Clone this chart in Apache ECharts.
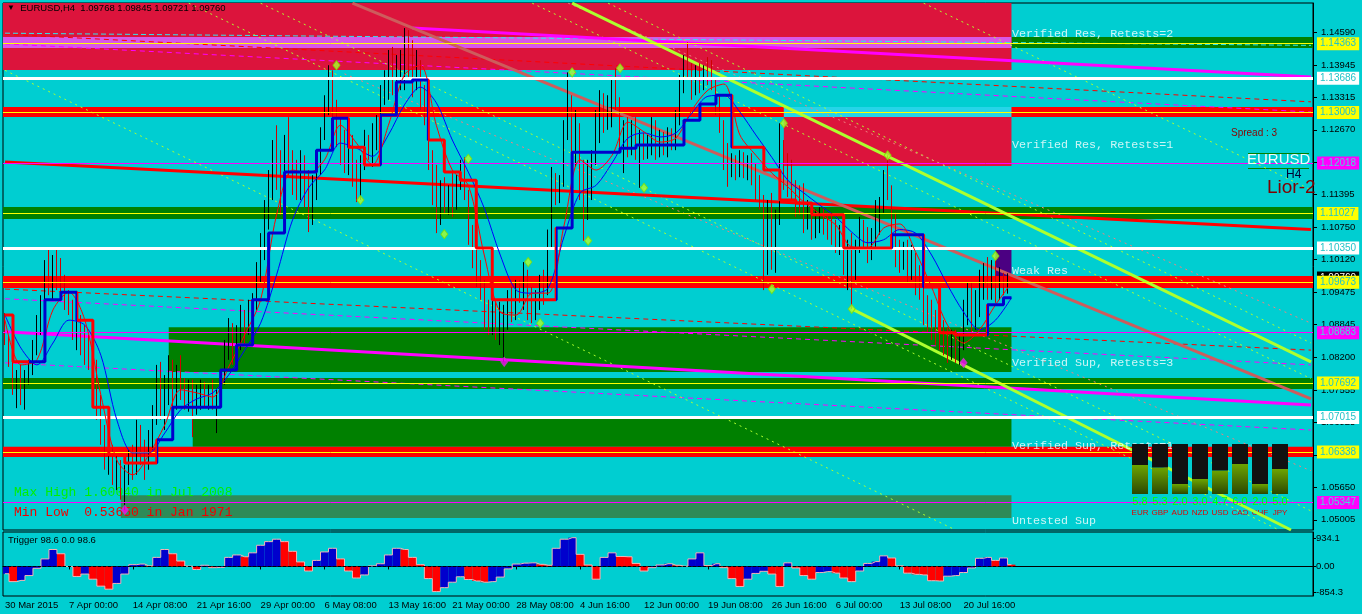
<!DOCTYPE html>
<html>
<head>
<meta charset="utf-8">
<script src="https://cdn.jsdelivr.net/npm/echarts@6.0.0/dist/echarts.min.js"></script>
<style>
html,body{margin:0;padding:0;background:#00CED1;overflow:hidden;}
#chart{width:1362px;height:614px;}
</style>
</head>
<body>
<div id="chart"></div>
<script>
// ================= DATA =================
const timeLabels = ['30 Mar 2015','7 Apr 00:00','14 Apr 08:00','21 Apr 16:00','29 Apr 00:00','6 May 08:00','13 May 16:00','21 May 00:00','28 May 08:00','4 Jun 16:00','12 Jun 00:00','19 Jun 08:00','26 Jun 16:00','6 Jul 00:00','13 Jul 08:00','20 Jul 16:00'];

const barOpen = [
1.0893,1.0854,1.0815,1.0766,1.0785,1.0746,1.0776,1.0795,1.0844,1.0883,
1.0923,1.0982,1.0962,1.0992,1.0972,1.0952,1.0933,1.0913,1.0874,1.0893,
1.0844,1.0824,1.0815,1.0776,1.0717,1.0667,1.0618,1.0638,1.0589,1.0599,
1.0559,1.0589,1.0618,1.0599,1.0667,1.0628,1.0608,1.0658,1.0707,1.0776,
1.0726,1.0766,1.0795,1.0736,1.0785,1.0756,1.0736,1.0746,1.0726,1.0736,
1.0746,1.0736,1.0746,1.0726,1.0736,1.0776,1.0834,1.0874,1.0834,1.0864,
1.0893,1.0874,1.0913,1.0933,1.0992,1.1041,1.1100,1.1168,1.1227,1.1188,
1.1149,1.1227,1.1208,1.1168,1.1158,1.1198,1.1139,1.1110,1.1158,1.1208,
1.1257,1.1316,1.1365,1.1296,1.1267,1.1227,1.1208,1.1247,1.1178,1.1149,
1.1198,1.1237,1.1227,1.1247,1.1286,1.1335,1.1365,1.1394,1.1365,1.1384,
1.1404,1.1434,1.1414,1.1384,1.1394,1.1326,1.1296,1.1208,1.1149,1.1110,
1.1139,1.1119,1.1139,1.1129,1.1158,1.1178,1.1139,1.1061,1.1021,1.0982,
1.0952,1.0903,1.0883,1.0913,1.0874,1.0893,1.0903,1.0933,1.0913,1.0952,
1.0942,1.0962,1.0933,1.0913,1.0933,1.0962,1.0952,1.1051,1.1158,1.1139,
1.1158,1.1267,1.1326,1.1247,1.1276,1.1168,1.1129,1.1178,1.1208,1.1286,
1.1316,1.1286,1.1306,1.1345,1.1326,1.1247,1.1267,1.1247,1.1257,1.1227,
1.1247,1.1227,1.1247,1.1267,1.1237,1.1247,1.1237,1.1257,1.1247,1.1296,
1.1355,1.1394,1.1384,1.1355,1.1375,1.1365,1.1380,1.1375,1.1355,1.1316,
1.1276,1.1208,1.1188,1.1208,1.1188,1.1208,1.1188,1.1198,1.1178,1.1149,
1.1129,1.1071,1.1100,1.1031,1.1090,1.1227,1.1178,1.1168,1.1149,1.1129,
1.1119,1.1090,1.1100,1.1080,1.1090,1.1100,1.1080,1.1071,1.1061,1.1041,
1.1051,1.1011,1.1031,1.1001,1.1031,1.1071,1.1051,1.1031,1.1061,1.1100,
1.1119,1.1168,1.1149,1.1071,1.1031,1.1021,1.1031,1.1001,1.1011,1.0962,
1.0952,1.0903,1.0893,1.0874,1.0864,1.0854,1.0844,1.0834,1.0844,1.0824,
1.0854,1.0913,1.0933,1.0893,1.0933,1.0962,1.0982,1.0952,1.0992,1.0952,
1.0962,1.0952];
const barHigh = [
1.0907,1.0864,1.0854,1.0795,1.0805,1.0795,1.0815,1.0854,1.0903,1.0942,
1.1011,1.1031,1.1021,1.1035,1.1015,1.0982,1.0952,1.0933,1.0923,1.0903,
1.0883,1.0864,1.0844,1.0815,1.0746,1.0687,1.0677,1.0648,1.0628,1.0618,
1.0608,1.0638,1.0648,1.0697,1.0687,1.0658,1.0677,1.0726,1.0805,1.0811,
1.0785,1.0824,1.0815,1.0805,1.0824,1.0779,1.0776,1.0776,1.0766,1.0776,
1.0772,1.0766,1.0776,1.0756,1.0795,1.0854,1.0897,1.0887,1.0883,1.0923,
1.0913,1.0933,1.0946,1.1007,1.1064,1.1129,1.1188,1.1247,1.1276,1.1227,
1.1257,1.1292,1.1227,1.1208,1.1227,1.1217,1.1188,1.1178,1.1227,1.1272,
1.1335,1.1394,1.1384,1.1326,1.1292,1.1267,1.1272,1.1257,1.1208,1.1217,
1.1267,1.1257,1.1280,1.1296,1.1355,1.1384,1.1424,1.1430,1.1414,1.1424,
1.1467,1.1463,1.1443,1.1424,1.1404,1.1355,1.1326,1.1227,1.1198,1.1168,
1.1174,1.1158,1.1188,1.1178,1.1208,1.1213,1.1149,1.1080,1.1031,1.1011,
1.0972,1.0933,1.0942,1.0933,1.0929,1.0923,1.0952,1.0958,1.0972,1.0972,
1.1007,1.0992,1.0958,1.0952,1.0982,1.0992,1.1071,1.1194,1.1182,1.1178,
1.1286,1.1380,1.1335,1.1306,1.1280,1.1208,1.1208,1.1227,1.1306,1.1345,
1.1339,1.1335,1.1365,1.1388,1.1331,1.1286,1.1292,1.1286,1.1292,1.1267,
1.1261,1.1257,1.1292,1.1286,1.1267,1.1263,1.1272,1.1270,1.1306,1.1375,
1.1414,1.1439,1.1398,1.1394,1.1398,1.1394,1.1410,1.1404,1.1365,1.1335,
1.1286,1.1241,1.1221,1.1217,1.1227,1.1223,1.1217,1.1221,1.1202,1.1178,
1.1139,1.1129,1.1143,1.1110,1.1280,1.1247,1.1221,1.1208,1.1168,1.1158,
1.1162,1.1129,1.1115,1.1110,1.1115,1.1113,1.1104,1.1100,1.1090,1.1080,
1.1076,1.1051,1.1064,1.1051,1.1096,1.1090,1.1076,1.1074,1.1129,1.1135,
1.1188,1.1217,1.1158,1.1104,1.1051,1.1047,1.1051,1.1041,1.1025,1.1001,
1.0966,1.0942,1.0933,1.0913,1.0899,1.0893,1.0879,1.0874,1.0874,1.0864,
1.0933,1.0966,1.0966,1.0952,1.0992,1.1005,1.1017,1.1011,1.1017,1.0997,
1.0986,1.0985];
const barLow = [
1.0844,1.0801,1.0746,1.0720,1.0726,1.0717,1.0766,1.0785,1.0824,1.0864,
1.0913,1.0942,1.0933,1.0952,1.0942,1.0913,1.0903,1.0854,1.0834,1.0824,
1.0805,1.0795,1.0756,1.0697,1.0648,1.0599,1.0589,1.0569,1.0559,1.0540,
1.0520,1.0569,1.0579,1.0589,1.0608,1.0579,1.0599,1.0638,1.0687,1.0697,
1.0677,1.0726,1.0707,1.0717,1.0736,1.0717,1.0713,1.0663,1.0707,1.0717,
1.0720,1.0717,1.0717,1.0671,1.0726,1.0766,1.0815,1.0805,1.0815,1.0834,
1.0844,1.0864,1.0893,1.0913,1.0966,1.1011,1.1071,1.1129,1.1149,1.1100,
1.1129,1.1178,1.1139,1.1129,1.1129,1.1115,1.1066,1.1080,1.1129,1.1178,
1.1247,1.1296,1.1267,1.1233,1.1198,1.1182,1.1178,1.1155,1.1125,1.1129,
1.1188,1.1208,1.1194,1.1227,1.1267,1.1316,1.1326,1.1335,1.1326,1.1345,
1.1345,1.1365,1.1331,1.1345,1.1306,1.1276,1.1188,1.1119,1.1064,1.1080,
1.1104,1.1100,1.1096,1.1110,1.1149,1.1129,1.1041,1.0995,1.0958,1.0933,
1.0874,1.0864,1.0864,1.0854,1.0844,1.0811,1.0874,1.0889,1.0893,1.0927,
1.0913,1.0893,1.0887,1.0893,1.0913,1.0923,1.0942,1.1031,1.1119,1.1123,
1.1155,1.1247,1.1208,1.1194,1.1129,1.1049,1.1090,1.1129,1.1198,1.1241,
1.1261,1.1267,1.1272,1.1306,1.1227,1.1182,1.1213,1.1217,1.1208,1.1153,
1.1208,1.1210,1.1217,1.1208,1.1213,1.1217,1.1213,1.1227,1.1227,1.1276,
1.1339,1.1365,1.1326,1.1335,1.1339,1.1345,1.1355,1.1345,1.1296,1.1261,
1.1188,1.1155,1.1174,1.1168,1.1174,1.1172,1.1168,1.1158,1.1129,1.1110,
1.0952,1.0982,1.0992,1.0986,1.1080,1.1149,1.1135,1.1129,1.1096,1.1100,
1.1064,1.1071,1.1051,1.1054,1.1064,1.1061,1.1051,1.1041,1.1025,1.1021,
1.0982,1.0952,1.0915,1.0972,1.1025,1.1031,1.1005,1.1011,1.1031,1.1061,
1.1104,1.1129,1.1051,1.0997,1.0986,1.0992,1.0966,1.0972,1.0942,1.0933,
1.0883,1.0868,1.0854,1.0844,1.0834,1.0824,1.0809,1.0815,1.0809,1.0805,
1.0834,1.0883,1.0868,1.0874,1.0899,1.0933,1.0933,1.0933,1.0927,1.0933,
1.0942,1.0945];
const barClose = [
1.0854,1.0815,1.0766,1.0785,1.0746,1.0776,1.0795,1.0844,1.0883,1.0923,
1.0982,1.0962,1.0992,1.0972,1.0952,1.0933,1.0913,1.0874,1.0893,1.0844,
1.0824,1.0815,1.0776,1.0717,1.0667,1.0618,1.0638,1.0589,1.0599,1.0559,
1.0589,1.0618,1.0599,1.0667,1.0628,1.0608,1.0658,1.0707,1.0776,1.0726,
1.0766,1.0795,1.0736,1.0785,1.0756,1.0736,1.0746,1.0726,1.0736,1.0746,
1.0736,1.0746,1.0726,1.0736,1.0776,1.0834,1.0874,1.0834,1.0864,1.0893,
1.0874,1.0913,1.0933,1.0992,1.1041,1.1100,1.1168,1.1227,1.1188,1.1149,
1.1227,1.1208,1.1168,1.1158,1.1198,1.1139,1.1110,1.1158,1.1208,1.1257,
1.1316,1.1365,1.1296,1.1267,1.1227,1.1208,1.1247,1.1178,1.1149,1.1198,
1.1237,1.1227,1.1247,1.1286,1.1335,1.1365,1.1394,1.1365,1.1384,1.1404,
1.1434,1.1414,1.1384,1.1394,1.1326,1.1296,1.1208,1.1149,1.1110,1.1139,
1.1119,1.1139,1.1129,1.1158,1.1178,1.1139,1.1061,1.1021,1.0982,1.0952,
1.0903,1.0883,1.0913,1.0874,1.0893,1.0903,1.0933,1.0913,1.0952,1.0942,
1.0962,1.0933,1.0913,1.0933,1.0962,1.0952,1.1051,1.1158,1.1139,1.1158,
1.1267,1.1326,1.1247,1.1276,1.1168,1.1129,1.1178,1.1208,1.1286,1.1316,
1.1286,1.1306,1.1345,1.1326,1.1247,1.1267,1.1247,1.1257,1.1227,1.1247,
1.1227,1.1247,1.1267,1.1237,1.1247,1.1237,1.1257,1.1247,1.1296,1.1355,
1.1394,1.1384,1.1355,1.1375,1.1365,1.1380,1.1375,1.1355,1.1316,1.1276,
1.1208,1.1188,1.1208,1.1188,1.1208,1.1188,1.1198,1.1178,1.1149,1.1129,
1.1071,1.1100,1.1031,1.1090,1.1227,1.1178,1.1168,1.1149,1.1129,1.1119,
1.1090,1.1100,1.1080,1.1090,1.1100,1.1080,1.1071,1.1061,1.1041,1.1051,
1.1011,1.1031,1.1001,1.1031,1.1071,1.1051,1.1031,1.1061,1.1100,1.1119,
1.1168,1.1149,1.1071,1.1031,1.1021,1.1031,1.1001,1.1011,1.0962,1.0952,
1.0903,1.0893,1.0874,1.0864,1.0854,1.0844,1.0834,1.0844,1.0824,1.0854,
1.0913,1.0933,1.0893,1.0933,1.0962,1.0982,1.0952,1.0992,1.0952,1.0962,
1.0952,1.0976];

// stepped trend line, one value every 4 bars, and its direction (1 = up/blue, -1 = down/red)
const trendStep = [
1.0903,1.0811,1.0811,1.0933,1.0948,1.0893,1.0722,1.0628,1.0612,1.0612,
1.0658,1.0722,1.0722,1.0722,1.0795,1.0844,1.0933,1.1064,1.1184,1.1184,
1.1227,1.1290,1.1233,1.1198,1.1296,1.1361,1.1365,1.1247,1.1184,1.1168,
1.1035,1.0933,1.0933,1.0933,1.0933,1.1074,1.1223,1.1223,1.1223,1.1231,
1.1237,1.1237,1.1237,1.1286,1.1318,1.1335,1.1233,1.1233,1.1188,1.1129,
1.1123,1.1100,1.1100,1.1035,1.1035,1.1035,1.1061,1.1061,1.0958,1.0868,
1.0864,1.0864,1.0923,1.0937];
const trendDir = [
-1,-1,1,1,1,-1,-1,-1,-1,-1,
1,1,1,1,1,1,1,1,1,1,
1,1,-1,-1,1,1,1,-1,-1,-1,
-1,-1,-1,-1,-1,1,1,1,1,1,
1,1,1,1,1,1,-1,-1,-1,-1,
-1,-1,-1,-1,-1,-1,1,1,-1,-1,
-1,-1,1,1];
const fastMA = [
1.0893,1.0805,1.0815,1.0913,1.0948,1.0893,1.0746,1.0618,1.0589,1.0628,
1.0687,1.0756,1.0750,1.0742,1.0801,1.0864,1.0933,1.1100,1.1188,1.1182,
1.1208,1.1276,1.1241,1.1198,1.1276,1.1375,1.1394,1.1276,1.1188,1.1158,
1.1021,1.0909,1.0903,1.0946,1.0946,1.1080,1.1208,1.1188,1.1217,1.1282,
1.1263,1.1243,1.1251,1.1306,1.1345,1.1357,1.1257,1.1217,1.1182,1.1155,
1.1125,1.1102,1.1080,1.1037,1.1035,1.1074,1.1082,1.1027,1.0958,1.0883,
1.0848,1.0874,1.0923,1.0966];
const slowMA = [
1.0903,1.0838,1.0805,1.0848,1.0893,1.0883,1.0824,1.0697,1.0632,1.0632,
1.0671,1.0717,1.0738,1.0750,1.0785,1.0834,1.0887,1.0982,1.1090,1.1153,
1.1188,1.1241,1.1231,1.1215,1.1257,1.1316,1.1351,1.1320,1.1247,1.1184,
1.1113,1.1021,1.0952,1.0946,1.0956,1.1058,1.1143,1.1158,1.1202,1.1251,
1.1261,1.1253,1.1261,1.1300,1.1333,1.1335,1.1302,1.1257,1.1213,1.1168,
1.1143,1.1119,1.1096,1.1066,1.1045,1.1051,1.1071,1.1064,1.1021,1.0962,
1.0909,1.0874,1.0893,1.0937];

const fractalIdx   = [83,89,110,116,131,134,142,146,154,160,192,195,212,221,248];
const fractalPrice = [1.1394,1.1129,1.1062,1.1210,1.1007,1.0887,1.1380,1.1049,1.1388,1.1153,1.0954,1.1280,1.0915,1.1217,1.1019];
const lowMarkIdx   = [30,125,240];
const lowMarkPrice = [1.0520,1.0811,1.0809];

const priceTicks = [1.14590,1.13945,1.13315,1.12670,1.12025,1.11395,1.10750,1.10120,1.09475,1.08845,1.08200,1.07555,1.06925,1.06280,1.05650,1.05005];
const levelPrices = [1.14363,1.13686,1.13009,1.12018,1.11027,1.10350,1.09760,1.09673,1.08683,1.07692,1.07015,1.06338,1.05347];
const levelKinds  = ['zone','white','zone','mid','zone','white','bid','zone','mid','zone','white','zone','mid'];

const zones = [
  {from:null, to:null, lo:1.14279, hi:1.14495, kind:'green'},
  {from:null, to:252,  lo:1.13846, hi:null,    kind:'crimson'},
  {from:null, to:252,  lo:1.14279, hi:1.14495, kind:'orchid'},
  {from:null, to:null, lo:1.12922, hi:1.13119, kind:'red'},
  {from:195,  to:252,  lo:1.11960, hi:1.12922, kind:'crimson'},
  {from:195,  to:252,  lo:1.12922, hi:1.13119, kind:'paleCyan'},
  {from:null, to:null, lo:1.10917, hi:1.11153, kind:'green'},
  {from:248,  to:252,  lo:1.09760, hi:1.10310, kind:'indigo'},
  {from:null, to:null, lo:1.09560, hi:1.09799, kind:'red'},
  {from:41,   to:252,  lo:1.07910, hi:1.08790, kind:'green'},
  {from:null, to:null, lo:1.07578, hi:1.07794, kind:'green'},
  {from:47,   to:252,  lo:1.06440, hi:1.06990, kind:'green'},
  {from:null, to:null, lo:1.06240, hi:1.06440, kind:'red'},
  {from:29,   to:252,  lo:1.05040, hi:1.05490, kind:'seagreen'}
];
const zoneTexts = ['Verified Res, Retests=2','Verified Res, Retests=1','Weak Res','Verified Sup, Retests=3','Verified Sup, Retests=1','Untested Sup'];
const zoneTextPrices = [1.1455,1.1237,1.0990,1.0809,1.0646,1.0498];

const trendLines = [
  {i0:0,   p0:1.1204, i1:327, p1:1.1071, kind:'redThick'},
  {i0:0,   p0:1.0870, i1:327, p1:1.0726, kind:'magThick'},
  {i0:102, p0:1.1467, i1:327, p1:1.1371, kind:'magThick'},
  {i0:0,   p0:1.0954, i1:327, p1:1.0834, kind:'redDash'},
  {i0:0,   p0:1.0935, i1:327, p1:1.0805, kind:'magDash'},
  {i0:0,   p0:1.0809, i1:327, p1:1.0677, kind:'magDash'},
  {i0:0,   p0:1.1455, i1:327, p1:1.1322, kind:'redDash'},
  {i0:0,   p0:1.1436, i1:327, p1:1.1302, kind:'magDash'},
  {i0:0,   p0:1.1457, i1:327, p1:1.1433, kind:'cyanDash'},
  {i0:0,   p0:1.1384, i1:238, p1:1.04805, kind:'gyDot'},
  {i0:46,  p0:1.1516, i1:319, p1:1.04805, kind:'gyDot'},
  {i0:64,  p0:1.1516, i1:327, p1:1.0518, kind:'gyDot'},
  {i0:132, p0:1.1516, i1:327, p1:1.0778, kind:'gyDot'},
  {i0:151, p0:1.1516, i1:327, p1:1.0848, kind:'gyDot'},
  {i0:230, p0:1.1516, i1:327, p1:1.1149, kind:'gyDot'},
  {i0:85,  p0:1.1377, i1:327, p1:1.0597, kind:'salmonDot'},
  {i0:141, p0:1.1516, i1:327, p1:1.0887, kind:'salmonDot'},
  {i0:87,  p0:1.1516, i1:327, p1:1.0738, kind:'indianThick'},
  {i0:142, p0:1.1516, i1:327, p1:1.0811, kind:'gyThick'},
  {i0:212, p0:1.0915, i1:322, p1:1.04805, kind:'gyThick'}
];

// Trigger oscillator, one value every 2 bars
const triggerVals = [
-240,-500,-460,-300,-60,250,560,420,0,-330,
-250,-420,-650,-750,-560,-250,60,80,20,300,
560,420,180,10,-100,40,-40,-30,300,380,
320,450,700,820,900,820,500,150,-150,200,
480,600,250,-150,-380,-280,20,90,380,600,
560,300,60,-400,-830,-700,-520,-340,-430,-480,
-520,-500,-350,-80,80,110,120,70,40,600,
900,950,400,50,-420,300,450,330,320,100,
-150,-40,50,90,40,10,250,450,30,90,
-40,-400,-660,-420,-230,-160,-250,-660,120,-50,
-300,-420,-200,-170,-220,-380,-500,-150,100,160,
350,280,20,-220,-260,-280,-470,-480,-320,-300,
-200,-50,270,300,200,280,60];
const triggerTicks = [934.1, 0, -854.3];

const currencies = ['EUR','GBP','AUD','NZD','USD','CAD','CHF','JPY'];
const strength = [5.8,5.3,2.0,3.0,4.7,6.0,2.0,5.0];

// ================= STYLES =================
const BG = '#00CED1';
const FONT = 'Liberation Sans';
const MONO = 'Liberation Mono';
const zoneColor = {green:'#008000', crimson:'#DC143C', orchid:'#D958E8', red:'#FF0000', paleCyan:'#26D4E8', indigo:'#4B0082', seagreen:'#2E8B57'};
const lineStyleOf = {
  redThick:{color:'#FF0000', width:3},
  magThick:{color:'#FF00FF', width:3},
  redDash:{color:'#FF0000', width:1, type:[5,4]},
  magDash:{color:'#FF00FF', width:1, type:[5,4]},
  cyanDash:{color:'#30E8F0', width:1, type:[5,3]},
  indianThick:{color:'#CD5C5C', width:3},
  gyThick:{color:'#ADFF2F', width:3},
  gyDot:{color:'#ADFF2F', width:1, type:[2,4]},
  salmonDot:{color:'#F08080', width:1, type:[2,4]}
};
const levelLine = {
  zone:{color:'#FFFF00', width:1},
  white:{color:'#FFFFFF', width:3},
  mid:{color:'#FF00FF', width:1},
  bid:{color:'rgba(0,0,0,0)', width:1}
};
const levelBox = {
  zone:{bg:'#FFFF00', fg:'#22C4C8'},
  white:{bg:'#FFFFFF', fg:'#22C4C8'},
  mid:{bg:'#FF00FF', fg:'#48D8D8'},
  bid:{bg:'#000000', fg:'#FFFFFF'}
};

// ================= BUILD =================
const N = 328;
const cats = Array.from({length:N}, (_, i) => String(i));
const series = [];

// zones
series.push({
  type:'line', xAxisIndex:0, yAxisIndex:0, data:[], z:1, silent:true,
  markArea:{silent:true, animation:false, data: zones.map(zn => {
    const st = {color: zoneColor[zn.kind], opacity:1, borderWidth:0};
    const a = {yAxis: zn.lo, itemStyle: st};
    if (zn.from != null) a.xAxis = zn.from;
    const b = {itemStyle: st};
    if (zn.to != null) b.xAxis = zn.to;
    if (zn.hi != null) b.yAxis = zn.hi;
    return [a, b];
  })}
});

// horizontal levels
series.push({
  type:'line', xAxisIndex:0, yAxisIndex:0, data:[], z:2, silent:true,
  markLine:{symbol:'none', silent:true, animation:false, precision:5, label:{show:false},
    data: levelPrices.map((p, i) => ({yAxis:p, lineStyle: Object.assign({type:'solid'}, levelLine[levelKinds[i]])}))
  }
});

// straight trend / channel lines
trendLines.forEach(l => {
  const thick = /Thick/.test(l.kind);
  series.push({
    type:'line', xAxisIndex:0, yAxisIndex:0, silent:true, symbol:'none', z: thick ? 3 : 2,
    data:[[l.i0, l.p0],[l.i1, l.p1]], lineStyle: lineStyleOf[l.kind]
  });
});

// price bars
series.push({
  type:'candlestick', xAxisIndex:0, yAxisIndex:0, z:4, silent:true, barWidth:1,
  data: barOpen.map((o, i) => [o, barClose[i], barLow[i], barHigh[i]]),
  itemStyle:{color:'#000000', color0:'#D00000', borderColor:'#000000', borderColor0:'#D00000', borderWidth:1}
});

// thin moving averages
series.push({
  type:'line', xAxisIndex:0, yAxisIndex:0, z:5, silent:true, symbol:'none', smooth:0.3,
  data: slowMA.map((v, k) => [4*k, v]), lineStyle:{color:'#0000FF', width:1}
});
series.push({
  type:'line', xAxisIndex:0, yAxisIndex:0, z:5, silent:true, symbol:'none', smooth:0.3,
  data: fastMA.map((v, k) => [4*k, v]), lineStyle:{color:'#FF0000', width:1}
});

// thick stepped trend line
const trendSeriesIndex = series.length;
series.push({
  type:'line', xAxisIndex:0, yAxisIndex:0, z:6, silent:true, symbol:'none', step:'middle',
  data: trendStep.map((v, k) => [4*k, v]), lineStyle:{width:3}
});

// fractal marks
series.push({
  type:'scatter', xAxisIndex:0, yAxisIndex:0, z:7, silent:true, symbol:'diamond', symbolSize:[7,9],
  data: fractalIdx.map((x, i) => [x, fractalPrice[i]]),
  itemStyle:{color:'#ADFF2F', borderColor:'#7FE000', borderWidth:1}
});
series.push({
  type:'scatter', xAxisIndex:0, yAxisIndex:0, z:7, silent:true, symbol:'diamond', symbolSize:[7,9],
  data: lowMarkIdx.map((x, i) => [x, lowMarkPrice[i]]),
  itemStyle:{color:'#FF00FF', borderColor:'#C040C0', borderWidth:1}
});

// zone captions
series.push({
  type:'scatter', xAxisIndex:0, yAxisIndex:0, z:7, silent:true, symbolSize:1,
  itemStyle:{color:'rgba(0,0,0,0)'},
  data: zoneTextPrices.map((p, i) => ({value:[252, p], label:{formatter: zoneTexts[i]}})),
  label:{show:true, position:'right', distance:0, color:'#FFFFFF', fontFamily:MONO, fontSize:11.7}
});

// price boxes on axis
series.push({
  type:'line', xAxisIndex:0, yAxisIndex:0, data:[], z:9, clip:false, silent:true,
  markLine:{symbol:'none', silent:true, animation:false, precision:5,
    lineStyle:{color:'rgba(0,0,0,0)', width:1, type:'solid'},
    label:{show:true, position:'end', distance:4, fontFamily:FONT, fontSize:10, padding:[2,3,1,3]},
    data: levelPrices.map((p, i) => ({yAxis:p,
      lineStyle:{color:'rgba(0,0,0,0)', width:1},
      label:{show:true, position:'end', formatter: p.toFixed(5), backgroundColor: levelBox[levelKinds[i]].bg, color: levelBox[levelKinds[i]].fg}}))
  }
});

// oscillator
series.push({
  type:'bar', xAxisIndex:1, yAxisIndex:1, z:3, silent:true, barWidth:8,
  data: triggerVals.map((v, m) => ({value:[2*m, v], itemStyle:{color: (m > 0 && v < triggerVals[m-1]) ? '#FF0000' : '#0000CD'}})),
  markLine:{symbol:'none', silent:true, animation:false, label:{show:false},
    data:[{yAxis:0}], lineStyle:{color:'#000000', type:[3,2], width:1}}
});
series.push({
  type:'line', xAxisIndex:1, yAxisIndex:1, z:4, silent:true, symbol:'none', step:'middle',
  data: triggerVals.map((v, m) => [2*m, v]), lineStyle:{color:'#F4B4B4', width:1}
});

// currency strength meter
series.push({
  type:'bar', xAxisIndex:2, yAxisIndex:2, stack:'meter', z:10, silent:true, barWidth:16,
  data: strength,
  label:{show:true, position:'bottom', distance:2, color:'#00FF00', fontSize:11, fontFamily:FONT,
    formatter:(p) => Number(p.value).toFixed(1)},
  itemStyle:{color: new echarts.graphic.LinearGradient(0,0,0,1,[{offset:0,color:'#6CA400'},{offset:1,color:'#2C4800'}])}
});
series.push({
  type:'bar', xAxisIndex:2, yAxisIndex:2, stack:'meter', z:10, silent:true, barWidth:16,
  data: strength.map(v => 10 - v), itemStyle:{color:'#111111'}
});

const labelEvery = 16;
const option = {
  animation:false,
  backgroundColor: BG,
  textStyle:{fontFamily:FONT},
  title:[
    {text:'{t|▼}  EURUSD,H4  1.09768 1.09845 1.09721 1.09760', left:7, top:3, padding:0,
     textStyle:{fontFamily:FONT, fontSize:9.5, fontWeight:'normal', color:'#000', rich:{t:{fontSize:8, color:'#000'}}}},
    {text:'Max High 1.60040 in Jul 2008', left:14, top:486, padding:0, z:3,
     textStyle:{fontFamily:MONO, fontSize:13, fontWeight:'normal', color:'#00F000'}},
    {text:'Min Low  0.53650 in Jan 1971', left:14, top:506, padding:0, z:3,
     textStyle:{fontFamily:MONO, fontSize:13, fontWeight:'normal', color:'#EE0000'}},
    {text:'Trigger 98.6 0.0 98.6', left:8, top:535, padding:0,
     textStyle:{fontFamily:FONT, fontSize:9.5, fontWeight:'normal', color:'#000'}},
    {text:'Spread : 3', left:1231, top:128, padding:0,
     textStyle:{fontFamily:FONT, fontSize:10, fontWeight:'normal', color:'#8B0000'}},
    {text:'EURUSD', left:1247, top:152, padding:0,
     textStyle:{fontFamily:FONT, fontSize:15, fontWeight:'normal', color:'#F2FAFA'}},
    {text:'H4', left:1286, top:169, padding:0,
     textStyle:{fontFamily:FONT, fontSize:12, fontWeight:'normal', color:'#000033'}},
    {text:'Lior-2', left:1267, top:178, padding:0,
     textStyle:{fontFamily:FONT, fontSize:19, fontWeight:'normal', color:'#800000'}}
  ],
  graphic:[
    {type:'line', shape:{x1:1248, y1:153.5, x2:1309, y2:153.5}, style:{stroke:'#008000', lineWidth:1}, silent:true},
    {type:'line', shape:{x1:1248, y1:168.5, x2:1309, y2:168.5}, style:{stroke:'#008000', lineWidth:1}, silent:true}
  ],
  visualMap:[{
    type:'piecewise', show:false, seriesIndex: trendSeriesIndex, dimension:0,
    pieces: trendDir.map((d, k) => ({gte:4*k-2, lt:4*k+2, color: d > 0 ? '#0000CD' : '#FF0000'})),
    outOfRange:{color:'#FF0000'}
  }],
  grid:[
    {left:3, top:3, width:1310, height:527, show:true, borderColor:'#000', borderWidth:1, backgroundColor:'transparent', z:0},
    {left:3, top:532, width:1310, height:64, show:true, borderColor:'#000', borderWidth:1, backgroundColor:'transparent', z:0},
    {left:1130, top:444, width:160, height:50}
  ],
  xAxis:[
    {type:'category', gridIndex:0, data:cats, show:false},
    {type:'category', gridIndex:1, data:cats,
     axisLine:{show:true, lineStyle:{color:'#000'}},
     axisTick:{show:true, alignWithLabel:true, length:3, lineStyle:{color:'#000'},
       interval:(i) => i % labelEvery === 0 && i / labelEvery < timeLabels.length},
     axisLabel:{show:true, color:'#000', fontSize:9.5, fontFamily:FONT, margin:4, align:'left',
       interval:(i) => i % labelEvery === 0 && i / labelEvery < timeLabels.length,
       formatter:(v, i) => timeLabels[i / labelEvery] || ''}},
    {type:'category', gridIndex:2, data:currencies,
     axisLine:{show:false}, axisTick:{show:false},
     axisLabel:{show:true, margin:15, interval:0, color:'#E00000', fontSize:8, fontFamily:FONT}}
  ],
  yAxis:[
    {type:'value', gridIndex:0, position:'right', min:1.04805, max:1.15163, scale:true,
     splitLine:{show:false},
     axisLine:{show:true, lineStyle:{color:'#000'}},
     axisTick:{show:true, customValues:priceTicks, length:4, lineStyle:{color:'#000'}},
     axisLabel:{show:true, customValues:priceTicks, color:'#000', fontSize:9.5, fontFamily:FONT, margin:8,
       formatter:(v) => Number(v).toFixed(5)}},
    {type:'value', gridIndex:1, position:'right', min:-975, max:1138,
     splitLine:{show:false},
     axisLine:{show:true, lineStyle:{color:'#000'}},
     axisTick:{show:true, customValues:triggerTicks, length:3, lineStyle:{color:'#000'}},
     axisLabel:{show:true, customValues:triggerTicks, color:'#000', fontSize:9.5, fontFamily:FONT, margin:3,
       formatter:(v) => v === 0 ? '0.00' : Number(v).toFixed(1)}},
    {type:'value', gridIndex:2, min:0, max:10, show:false}
  ],
  series: series
};

const chart = echarts.init(document.getElementById('chart'), null, {renderer:'canvas', width:1362, height:614});
chart.setOption(option);
</script>
</body>
</html>
